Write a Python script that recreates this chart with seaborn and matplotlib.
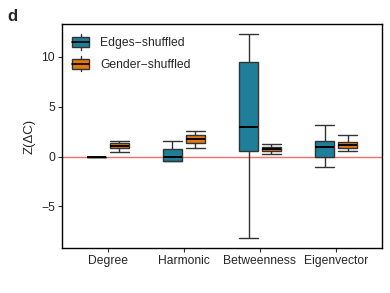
import matplotlib
matplotlib.use("Agg")
import matplotlib.pyplot as plt
import seaborn as sns
import pandas as pd
from matplotlib.patches import Patch, Rectangle
from matplotlib.lines import Line2D
from matplotlib.legend_handler import HandlerBase

# five-number summaries: min, q1, median, q3, max
metrics = ['Degree', 'Harmonic', 'Betweenness', 'Eigenvector']
groups = ['Edges\u2212shuffled', 'Gender\u2212shuffled']

edges_stats = [
    [0.0, 0.0, 0.0, 0.0, 0.0],
    [-0.45, -0.45, 0.0, 0.75, 1.6],
    [-8.15, 0.57, 3.0, 9.5, 12.3],
    [-1.05, 0.0, 0.97, 1.57, 3.17],
]
gender_stats = [
    [0.47, 0.84, 1.1, 1.34, 1.54],
    [0.84, 1.34, 1.8, 2.17, 2.57],
    [0.27, 0.57, 0.8, 1.0, 1.27],
    [0.57, 0.84, 1.17, 1.47, 2.14],
]
colors = ['#1F7F99', '#E2790D']

rows = []
for g, stats in zip(groups, [edges_stats, gender_stats]):
    for m, vals in zip(metrics, stats):
        for v in vals:
            rows.append({'metric': m, 'type': g, 'value': v})
df = pd.DataFrame(rows)

sns.set_style('white')
plt.rcParams['font.family'] = ['Liberation Sans', 'DejaVu Sans']
plt.rcParams['axes.unicode_minus'] = True

fig = plt.figure(figsize=(3.9, 2.93), dpi=100)
ax = fig.add_axes([0.159, 0.153, 0.82, 0.765])

ax.axhline(0, color='#F07070', lw=1, zorder=0)
sns.boxplot(data=df, x='metric', y='value', hue='type', order=metrics,
            hue_order=groups, palette=colors, saturation=1, whis=(0, 100),
            width=0.6, gap=0.17, linecolor='#333333', linewidth=1,
            fliersize=0, capwidths=0.25,
            medianprops=dict(color='black', linewidth=1.4),
            legend=False, ax=ax)

ax.set_xlim(-0.6, 3.6)
ax.set_ylim(-9.2, 13.3)
ax.set_yticks([-5, 0, 5, 10])
ax.set_xlabel('')
ax.set_ylabel('Z(\u0394C)', fontsize=9.5)
ax.tick_params(axis='both', labelsize=8.7, length=3, color='#333333',
               left=True, bottom=True, pad=2)
for s in ax.spines.values():
    s.set_color('black')
    s.set_linewidth(1)


class BoxHandler(HandlerBase):
    def create_artists(self, legend, orig_handle, xdescent, ydescent,
                       width, height, fontsize, trans):
        x0, y0 = -xdescent, -ydescent
        xm = x0 + width / 2
        b0, b1 = y0 + height * 0.17, y0 + height * 0.83
        box = Rectangle((x0, b0), width, b1 - b0,
                        facecolor=orig_handle.get_facecolor(),
                        edgecolor='#333333', lw=1, transform=trans)
        med = Line2D([x0, x0 + width], [y0 + height / 2] * 2,
                     color='black', lw=1.2, transform=trans)
        w1 = Line2D([xm, xm], [y0, b0], color='#333333',
                    lw=1, transform=trans)
        w2 = Line2D([xm, xm], [b1, y0 + height], color='#333333',
                    lw=1, transform=trans)
        return [w1, w2, box, med]


handles = [Patch(facecolor=c, label=g) for c, g in zip(colors, groups)]
ax.legend(handles=handles, loc='upper left', frameon=False, fontsize=8.7,
          handler_map={Patch: BoxHandler()}, handlelength=1.4,
          handleheight=1.6, labelspacing=0.5, handletextpad=0.9,
          borderaxespad=0.45, bbox_to_anchor=(0.0, 1.0))

fig.text(0.02, 0.928, 'd', fontsize=12, fontweight='bold')

fig.savefig('out.png', dpi=100)
